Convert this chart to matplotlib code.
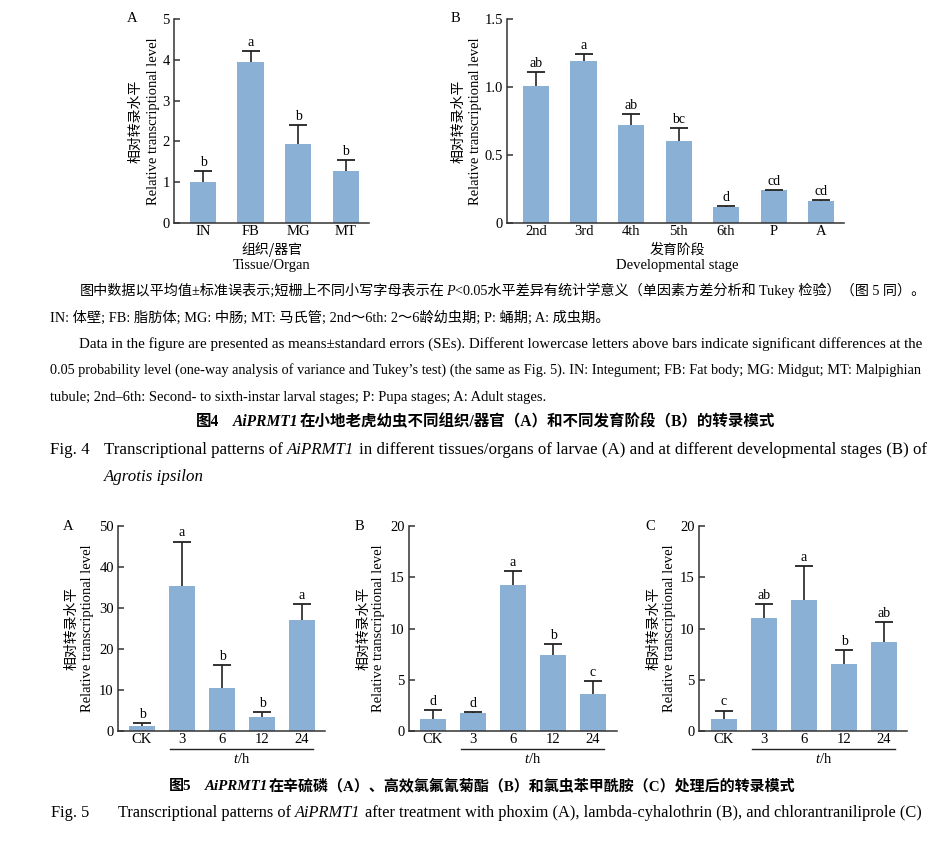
import matplotlib
matplotlib.use('Agg')
import matplotlib.pyplot as plt
import matplotlib.transforms as mtransforms
import numpy as np

plt.rcParams['font.family'] = ['Liberation Serif', 'Noto Sans CJK SC']
plt.rcParams['mathtext.fontset'] = 'custom'
plt.rcParams['mathtext.rm'] = 'Liberation Serif'
plt.rcParams['mathtext.it'] = 'Liberation Serif:italic'

# ---- data ----
tissue_labels = ['IN', 'FB', 'MG', 'MT']
tissue_mean = [1.0, 3.94, 1.93, 1.27]
tissue_se = [0.27, 0.28, 0.47, 0.28]
tissue_sig = ['b', 'a', 'b', 'b']

stage_labels = ['2nd', '3rd', '4th', '5th', '6th', 'P', 'A']
stage_mean = [1.01, 1.19, 0.72, 0.60, 0.12, 0.24, 0.165]
stage_se = [0.10, 0.055, 0.08, 0.095, 0.008, 0.005, 0.005]
stage_sig = ['ab', 'a', 'ab', 'bc', 'd', 'cd', 'cd']

time_labels = ['CK', '3', '6', '12', '24']
phoxim_mean = [1.2, 35.4, 10.5, 3.4, 27.1]
phoxim_se = [0.8, 10.8, 5.5, 1.3, 3.8]
phoxim_sig = ['b', 'a', 'b', 'b', 'a']

lcy_mean = [1.15, 1.75, 14.25, 7.4, 3.6]
lcy_se = [0.9, 0.1, 1.4, 1.1, 1.25]
lcy_sig = ['d', 'd', 'a', 'b', 'c']

chl_mean = [1.15, 11.05, 12.8, 6.55, 8.7]
chl_se = [0.85, 1.3, 3.25, 1.35, 1.9]
chl_sig = ['c', 'ab', 'a', 'b', 'ab']

BAR = '#8BB0D6'
INK = '#222222'
W, H = 945, 857

fig = plt.figure(figsize=(W / 100, H / 100), dpi=100)
renderer = fig.canvas.get_renderer()


def rect(x0, y0, x1, y1):
    return [x0 / W, 1 - y1 / H, (x1 - x0) / W, (y1 - y0) / H]


def ftext(x, y, s, **kw):
    return fig.text(x / W, 1 - y / H, s, **kw)


def bar_panel(box, labels, means, se, sig, xlim, ylim, yticks, yticklabels, width):
    ax = fig.add_axes(rect(*box))
    x = np.arange(len(labels))
    means = np.array(means)
    se = np.array(se)
    ax.bar(x, means, width=width, color=BAR, zorder=2)
    ax.vlines(x, means, means + se, color=INK, lw=1.2, zorder=3)
    ax.plot(x, means + se, ls='none', marker='_', ms=13, mew=1.3, color=INK, zorder=3)
    for xi, top, s in zip(x, means + se, sig):
        ax.annotate(s, (xi, top), xytext=(0, 1.5), textcoords='offset points',
                    ha='center', va='bottom', fontsize=10)
    ax.set_xlim(*xlim)
    ax.set_ylim(*ylim)
    ax.set_yticks(yticks)
    ax.set_yticklabels(yticklabels)
    ax.set_xticks(x)
    ax.set_xticklabels(labels)
    for side in ['top', 'right']:
        ax.spines[side].set_visible(False)
    for side in ['left', 'bottom']:
        ax.spines[side].set_linewidth(1.1)
        ax.spines[side].set_color('#333333')
    ax.tick_params(axis='y', direction='in', length=4, width=1.1, labelsize=10.5, pad=3,
                   colors='#333333', labelcolor='black')
    ax.tick_params(axis='x', length=0, labelsize=10.5, pad=1.5)
    ax.patch.set_alpha(0)
    return ax


def ylab(xc, xe, yc):
    ftext(xc, yc, '相对转录水平', rotation=90, ha='center', va='center', fontsize=10,
          family=['Noto Sans CJK SC'])
    ftext(xe, yc, 'Relative transcriptional level', rotation=90, ha='center', va='center', fontsize=10.5)


# ---- Fig. 4 ----
ax = bar_panel((174, 19, 369, 223), tissue_labels, tissue_mean, tissue_se, tissue_sig,
               (-0.61, 3.49), (0, 5), [0, 1, 2, 3, 4, 5], ['0', '1', '2', '3', '4', '5'], 0.55)
ylab(135, 153, 121)
ftext(132, 19, 'A', ha='center', va='center', fontsize=10.5)
ftext(272, 250, '组织/器官', ha='center', va='center', fontsize=10, family=['Noto Sans CJK SC'])
ftext(272, 266, 'Tissue/Organ', ha='center', va='center', fontsize=10.5)

ax = bar_panel((507, 19, 844, 223), stage_labels, stage_mean, stage_se, stage_sig,
               (-0.61, 6.48), (0, 1.5), [0, 0.5, 1.0, 1.5], ['0', '0.5', '1.0', '1.5'], 0.55)
ylab(458, 476, 121)
ftext(455, 19, 'B', ha='center', va='center', fontsize=10.5)
ftext(677, 250, '发育阶段', ha='center', va='center', fontsize=10, family=['Noto Sans CJK SC'])
ftext(677, 266, 'Developmental stage', ha='center', va='center', fontsize=10.5)

# ---- Fig. 5 ----
fig5 = [
    ((118, 526, 325, 731), phoxim_mean, phoxim_se, phoxim_sig, (-0.6, 4.575), (0, 50),
     [0, 10, 20, 30, 40, 50], (71, 87), (68, 'A')),
    ((409, 526, 617, 731), lcy_mean, lcy_se, lcy_sig, (-0.6, 4.6), (0, 20),
     [0, 5, 10, 15, 20], (363, 379), (359, 'B')),
    ((699, 526, 907, 731), chl_mean, chl_se, chl_sig, (-0.625, 4.575), (0, 20),
     [0, 5, 10, 15, 20], (653, 669), (650, 'C')),
]
for box, m, s, g, xl, yl, yt, (cx, ex), (lx, letter) in fig5:
    ax = bar_panel(box, time_labels, m, s, g, xl, yl, yt, [str(v) for v in yt], 0.65)
    ylab(cx, ex, 628)
    ftext(lx, 526, letter, ha='center', va='center', fontsize=10.5)
    tr = mtransforms.blended_transform_factory(ax.transData, ax.transAxes)
    ax.plot([0.7, 4.28], [-0.088, -0.088], color=INK, lw=1.0, transform=tr, clip_on=False)
    ax.text(2.49, -0.137, '$t$/h', transform=tr, ha='center', va='center', fontsize=10.5)


# ---- captions ----
def seg_line(segs, x0, y, size, x1=None):
    def draw(sz):
        arts = []
        x = x0
        for s, kw, gap in segs:
            t = ftext(x, y, s, fontsize=sz, va='baseline', ha='left', **kw)
            x += t.get_window_extent(renderer).width + gap * sz * 100 / 72
            arts.append(t)
        return arts, x

    arts, xe = draw(size)
    if x1 is not None:
        k = (x1 - x0) / (xe - x0)
        k = min(max(k, 0.75), 1.25)
        for a in arts:
            a.remove()
        size = size * k
        arts, xe = draw(size)
    return size


IT = {'style': 'italic'}
BD = {'weight': 'bold'}
BI = {'weight': 'bold', 'style': 'italic'}

seg_line([('图中数据以平均值±标准误表示;短栅上不同小写字母表示在', {}, 0.05), ('P', IT, 0.05),
          ('<0.05水平差异有统计学意义（单因素方差分析和 Tukey 检验）（图 5 同）。', {}, 0)],
         80, 295, 10, 925)
seg_line([('IN: 体壁; FB: 脂肪体; MG: 中肠; MT: 马氏管; 2nd～6th: 2～6龄幼虫期; P: 蛹期; A: 成虫期。', {}, 0)],
         50, 322, 10, 608)
seg_line([('Data in the figure are presented as means±standard errors (SEs). Different lowercase letters '
           'above bars indicate significant differences at the', {}, 0)], 79, 348, 10, 922)
seg_line([('0.05 probability level (one-way analysis of variance and Tukey’s test) (the same as Fig. 5). '
           'IN: Integument; FB: Fat body; MG: Midgut; MT: Malpighian', {}, 0)], 50, 374, 10, 922)
seg_line([('tubule; 2nd–6th: Second- to sixth-instar larval stages; P: Pupa stages; A: Adult stages.', {}, 0)],
         50, 401, 10, 547)
seg_line([('图4', BD, 0.9), ('AiPRMT1', BI, 0.05),
          ('在小地老虎幼虫不同组织/器官（A）和不同发育阶段（B）的转录模式', BD, 0)], 196, 426, 10.5, 777)
fs4 = seg_line([('Transcriptional patterns of', {}, 0.25), ('AiPRMT1', IT, 0.25),
                ('in different tissues/organs of larvae (A) and at different developmental stages (B) of', {}, 0)],
               104, 454, 10.5, 922)
seg_line([('Fig. 4', {}, 0)], 50, 454, fs4)
seg_line([('Agrotis ipsilon', IT, 0)], 104, 481, fs4)

seg_line([('图5', BD, 0.9), ('AiPRMT1', BI, 0.05),
          ('在辛硫磷（A）、高效氯氟氰菊酯（B）和氯虫苯甲酰胺（C）处理后的转录模式', BD, 0)], 169, 790, 10.5, 799)
fs5 = seg_line([('Transcriptional patterns of', {}, 0.25), ('AiPRMT1', IT, 0.25),
                ('after treatment with phoxim (A), lambda-cyhalothrin (B), and chlorantraniliprole (C)', {}, 0)],
               118, 817, 10.5, 916)
seg_line([('Fig. 5', {}, 0)], 51, 817, fs5)

fig.savefig('out.png', dpi=100, facecolor='white')
